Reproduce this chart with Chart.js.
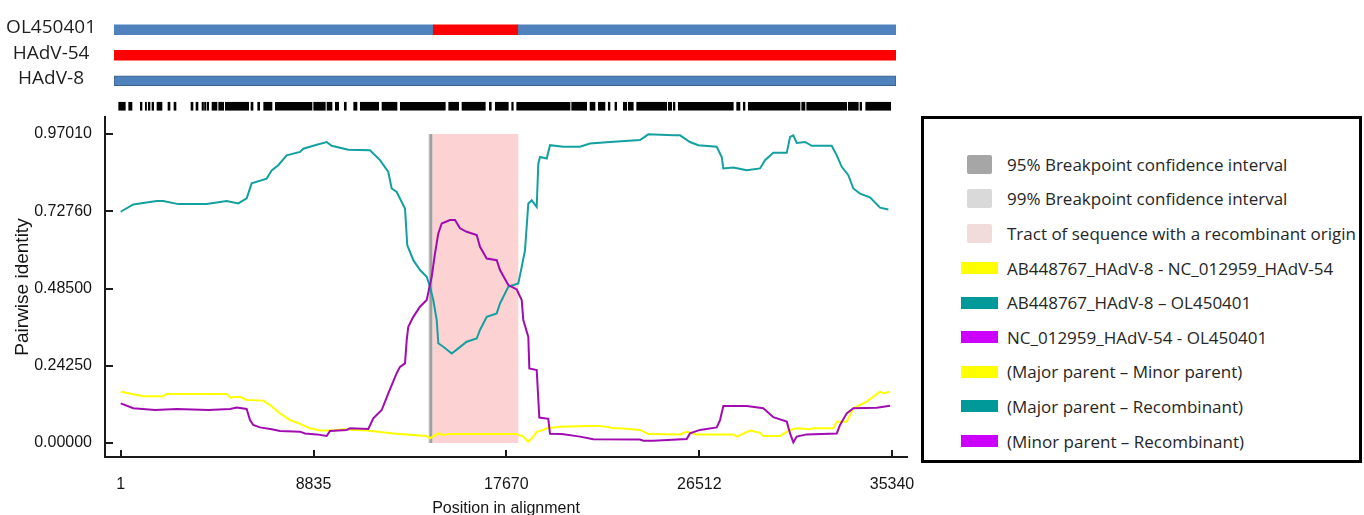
<!DOCTYPE html>
<html>
<head>
<meta charset="utf-8">
<title>Pairwise identity - recombination</title>
<script src="https://cdn.jsdelivr.net/npm/chart.js@4.4.1/dist/chart.umd.min.js"></script>
<style>
	html, body { margin: 0; padding: 0; background: #fff; }
	body { width: 1364px; height: 515px; position: relative; overflow: hidden; font-family: "Open Sans", sans-serif; }
	#plot-wrap { position: absolute; left: 0; top: 0; width: 930px; height: 515px; }
	#track-wrap { position: absolute; left: 0; top: 0; width: 915px; height: 120px; }
	.legend { position: absolute; left: 921px; top: 116px; width: 441px; height: 347px; box-sizing: border-box; border: 3px solid #000; overflow: hidden; background: #fff; }
	.legend ul { list-style: none; margin: 0; padding: 0; position: absolute; left: 0; top: 28px; }
	.legend li { position: relative; height: 34.6px; display: flex; align-items: center; white-space: nowrap; }
	.legend .swatch { position: absolute; }
	.legend .swatch.box { left: 43px; width: 25px; height: 19px; border-radius: 2px; }
	.legend .swatch.bar { left: 37px; width: 37px; height: 12px; }
	.legend .txt { margin-left: 83px; font-size: 17px; color: #262626; }
</style>
</head>
<body>
<div id="plot-wrap"><canvas id="identity-chart" width="930" height="515"></canvas></div>
<div id="track-wrap"><canvas id="track-chart" width="915" height="120"></canvas></div>
<div class="legend"><ul id="legend-list"></ul></div>

<script>
	'use strict';

	// axis ticks
	var xTicks = [1, 8835, 17670, 26512, 35340];
	var yTicks = [0, 0.2425, 0.485, 0.7276, 0.9701];

	// recombinant tract and breakpoint confidence intervals (alignment positions)
	var tract = [14250, 18218];
	var ci99 = [14105, 14290];
	var ci95 = [14150, 14270];

	// AB448767_HAdV-8 - OL450401 (major parent - recombinant)
	var tealPos = [1, 578, 1650, 1952, 2639, 3940, 4857, 5388, 5773, 6002, 6690, 6919, 7221, 7606, 8215, 8367, 8903, 9439, 9668, 10429, 11423, 11881, 12262, 12417, 12646, 13027, 13132, 13407, 13714, 14021, 14172, 14323, 14480, 14553, 14782, 15167, 15469, 15854, 16313, 16463, 16771, 17229, 17380, 17760, 18218, 18374, 18525, 18677, 18832, 19061, 19135, 19213, 19520, 19671, 20280, 21045, 21503, 22420, 23795, 24175, 25320, 25628, 26085, 26466, 27309, 27538, 27612, 28070, 28684, 29293, 29522, 29902, 30517, 30669, 30819, 30974, 31355, 31662, 32578, 32808, 33037, 33339, 33568, 33875, 34333, 34791, 35172];
	var tealVal = [0.726, 0.749, 0.760, 0.760, 0.750, 0.750, 0.760, 0.752, 0.768, 0.815, 0.830, 0.856, 0.872, 0.903, 0.914, 0.924, 0.935, 0.945, 0.933, 0.921, 0.919, 0.888, 0.851, 0.799, 0.788, 0.736, 0.621, 0.574, 0.543, 0.522, 0.490, 0.449, 0.386, 0.313, 0.302, 0.281, 0.297, 0.318, 0.328, 0.355, 0.396, 0.407, 0.438, 0.490, 0.501, 0.553, 0.605, 0.752, 0.762, 0.741, 0.877, 0.898, 0.893, 0.935, 0.930, 0.930, 0.940, 0.945, 0.951, 0.969, 0.966, 0.966, 0.945, 0.935, 0.930, 0.898, 0.862, 0.865, 0.856, 0.862, 0.888, 0.911, 0.911, 0.961, 0.966, 0.942, 0.945, 0.933, 0.933, 0.903, 0.867, 0.841, 0.799, 0.783, 0.771, 0.739, 0.733];

	// NC_012959_HAdV-54 - OL450401 (minor parent - recombinant)
	var purplePos = [1, 578, 1573, 2566, 4014, 5008, 5316, 5773, 5925, 6076, 6383, 6919, 7299, 8216, 8445, 8981, 9439, 9591, 10356, 10507, 11346, 11575, 11960, 12262, 12646, 12798, 13027, 13105, 13178, 13407, 13714, 14021, 14250, 14402, 14553, 14709, 15089, 15318, 15547, 15854, 16313, 16463, 16771, 17229, 17380, 17760, 18146, 18374, 18447, 18677, 18723, 19061, 19181, 19593, 19671, 20207, 21045, 21655, 23795, 23946, 24404, 25934, 26085, 26544, 27309, 27461, 27612, 28684, 29444, 29902, 30517, 30669, 30819, 30974, 31433, 32808, 32959, 33265, 33568, 34641, 35250];
	var purpleVal = [0.1245, 0.109, 0.1035, 0.107, 0.1035, 0.107, 0.111, 0.107, 0.072, 0.0565, 0.049, 0.043, 0.0376, 0.0355, 0.030, 0.027, 0.022, 0.0376, 0.041, 0.046, 0.044, 0.0775, 0.1035, 0.156, 0.219, 0.239, 0.250, 0.323, 0.365, 0.396, 0.428, 0.449, 0.522, 0.595, 0.658, 0.689, 0.700, 0.700, 0.674, 0.663, 0.653, 0.616, 0.579, 0.574, 0.543, 0.496, 0.482, 0.449, 0.386, 0.333, 0.234, 0.229, 0.080, 0.076, 0.029, 0.028, 0.020, 0.012, 0.011, 0.007, 0.007, 0.0125, 0.030, 0.041, 0.049, 0.072, 0.116, 0.116, 0.109, 0.081, 0.067, 0.030, 0.002, 0.020, 0.027, 0.030, 0.0565, 0.093, 0.109, 0.111, 0.117];

	// AB448767_HAdV-8 - NC_012959_HAdV-54 (major parent - minor parent)
	var yellowPos = [1, 578, 1036, 1952, 2109, 4857, 5008, 5467, 5773, 6535, 6842, 7299, 7758, 8216, 8675, 9133, 9742, 10200, 11273, 12491, 14021, 14172, 14553, 14782, 15089, 18146, 18447, 18677, 18906, 19061, 19365, 19520, 20130, 21353, 21962, 22420, 22572, 22879, 23795, 24175, 25628, 25934, 26393, 28070, 28226, 28835, 29293, 29444, 30210, 30669, 30974, 31584, 31735, 32652, 32808, 33265, 33568, 34182, 34791, 34943, 35250];
	var yellowVal = [0.161, 0.153, 0.147, 0.147, 0.154, 0.154, 0.143, 0.145, 0.135, 0.133, 0.119, 0.093, 0.072, 0.060, 0.046, 0.039, 0.039, 0.043, 0.039, 0.030, 0.022, 0.015, 0.030, 0.025, 0.028, 0.028, 0.020, 0.004, 0.020, 0.035, 0.041, 0.046, 0.051, 0.053, 0.053, 0.049, 0.046, 0.046, 0.041, 0.028, 0.027, 0.035, 0.027, 0.027, 0.020, 0.039, 0.032, 0.022, 0.022, 0.041, 0.046, 0.043, 0.046, 0.046, 0.067, 0.067, 0.109, 0.130, 0.161, 0.156, 0.161];

	// sequence tracks above the plot
	var trackNames = ['OL450401', 'HAdV-54', 'HAdV-8'];
	var olSegments = [[1, 14430], [14430, 18271], [18271, 35340]];
	var olSources = ['HAdV-8', 'HAdV-54', 'HAdV-8'];
	var fullLength = [1, 35340];

	// informative sites (runs of positions)
	var informativeSites = [[213, 512], [665, 814], [1190, 1266], [1415, 1470], [1551, 1628], [1718, 1795], [1944, 2170], [2441, 2532], [2713, 2803], [3481, 3571], [3707, 3797], [3978, 4046], [4091, 4158], [4217, 4281], [4430, 4656], [4732, 4958], [5031, 6088], [6192, 6283], [6495, 6585], [6766, 7141], [7290, 8949], [9026, 9550], [9627, 9853], [10002, 10155], [10408, 10498], [10833, 10982], [11131, 11963], [12112, 12790], [12939, 14973], [15126, 15578], [15727, 16780], [16961, 17051], [17232, 17819], [17973, 18045], [18199, 20608], [20684, 21362], [21513, 21739], [21886, 22189], [22338, 22415], [22639, 22715], [23016, 23169], [23241, 23467], [23621, 24977], [25049, 25203], [25276, 25352], [25501, 27987], [28140, 28289], [28439, 28516], [28665, 31002], [31078, 31228], [31304, 33111], [33183, 33636], [33713, 33790], [33971, 35101]];

	// legend
	var legendLabels = ['95% Breakpoint confidence interval', '99% Breakpoint confidence interval', 'Tract of sequence with a recombinant origin', 'AB448767_HAdV-8 - NC_012959_HAdV-54', 'AB448767_HAdV-8 \u2013 OL450401', 'NC_012959_HAdV-54 - OL450401', '(Major parent \u2013 Minor parent)', '(Major parent \u2013 Recombinant)', '(Minor parent \u2013 Recombinant)'];
	var legendColors = ['#a6a6a6', '#d9d9d9', '#f2dcdb', '#ffff00', '#009999', '#cc00ff', '#ffff00', '#009999', '#cc00ff'];
	var legendKinds = ['box', 'box', 'box', 'bar', 'bar', 'bar', 'bar', 'bar', 'bar'];

	var COLORS = {
		yellow: '#ffff00',
		teal: '#13a0a0',
		purple: '#a00cb0',
		tract: '#fcd2d2',
		ci95: '#a0a0a0',
		ci99: '#d4d4d4',
		'HAdV-8': '#4f81bd',
		'HAdV-54': '#ff0000'
	};

	var tickFont = { family: '"Liberation Sans", Arial, sans-serif', size: 16 };

	function toPoints(pos, val) {
		return pos.map(function (p, i) {
			return { x: p, y: val[i] };
		});
	}

	function lineSeries(label, pos, val, color, order) {
		return {
			label: label,
			data: toPoints(pos, val),
			borderColor: color,
			backgroundColor: color,
			borderWidth: 2,
			pointRadius: 0,
			tension: 0,
			fill: false,
			order: order
		};
	}

	/**
	 * Shaded tract and breakpoint intervals behind the lines
	 */
	var regionPlugin = {
		id: 'regions',
		beforeDatasetsDraw: function (chart) {
			var ctx = chart.ctx;
			var x = chart.scales.x;
			var y = chart.scales.y;
			var top = y.getPixelForValue(yTicks[yTicks.length - 1]);
			var bottom = y.getPixelForValue(0);

			function band(range, color) {
				var x1 = x.getPixelForValue(range[0]);
				var x2 = x.getPixelForValue(range[1]);
				ctx.fillStyle = color;
				ctx.fillRect(x1, top, x2 - x1, bottom - top);
			}

			ctx.save();
			band(tract, COLORS.tract);
			band(ci99, COLORS.ci99);
			band(ci95, COLORS.ci95);
			ctx.restore();
		}
	};

	/**
	 * Tick marks pointing into the plot area
	 */
	var innerTicksPlugin = {
		id: 'innerTicks',
		afterDraw: function (chart) {
			var ctx = chart.ctx;
			var x = chart.scales.x;
			var y = chart.scales.y;
			var area = chart.chartArea;

			ctx.save();
			ctx.strokeStyle = '#1a1a1a';
			ctx.lineWidth = 2;
			ctx.beginPath();
			xTicks.forEach(function (v) {
				var px = Math.round(x.getPixelForValue(v));
				ctx.moveTo(px, area.bottom);
				ctx.lineTo(px, area.bottom - 7);
			});
			yTicks.forEach(function (v) {
				var py = Math.round(y.getPixelForValue(v));
				ctx.moveTo(area.left, py);
				ctx.lineTo(area.left + 8, py);
			});
			ctx.stroke();
			ctx.restore();
		}
	};

	var RecombinationPlot = {
		init: function () {
			this.renderIdentityChart();
			this.renderTrackChart();
			this.renderLegend();
		},

		renderIdentityChart: function () {
			var ctx = document.getElementById('identity-chart');

			new Chart(ctx, {
				type: 'line',
				data: {
					datasets: [
						lineSeries('AB448767_HAdV-8 - NC_012959_HAdV-54', yellowPos, yellowVal, COLORS.yellow, 3),
						lineSeries('AB448767_HAdV-8 - OL450401', tealPos, tealVal, COLORS.teal, 2),
						lineSeries('NC_012959_HAdV-54 - OL450401', purplePos, purpleVal, COLORS.purple, 1)
					]
				},
				options: {
					responsive: false,
					animation: false,
					layout: {
						padding: { top: 117, right: 23, bottom: 0, left: 0 }
					},
					plugins: {
						legend: { display: false },
						tooltip: { enabled: false }
					},
					scales: {
						x: {
							type: 'linear',
							min: -718,
							max: 36027,
							afterBuildTicks: function (scale) {
								scale.ticks = xTicks.map(function (v) {
									return { value: v };
								});
							},
							afterFit: function (scale) {
								scale.height = 58;
							},
							grid: { display: false },
							border: { display: true, color: '#1a1a1a', width: 2 },
							ticks: {
								autoSkip: false,
								maxRotation: 0,
								padding: 10,
								color: '#151515',
								font: tickFont,
								callback: function (value) {
									return String(value);
								}
							},
							title: {
								display: true,
								text: 'Position in alignment',
								color: '#151515',
								padding: { top: 0, bottom: -2 },
								font: { family: tickFont.family, size: 16, lineHeight: 1 }
							}
						},
						y: {
							min: -0.044,
							max: 1.0235,
							afterBuildTicks: function (scale) {
								scale.ticks = yTicks.map(function (v) {
									return { value: v };
								});
							},
							afterFit: function (scale) {
								scale.width = 105;
							},
							grid: { display: false },
							border: { display: true, color: '#1a1a1a', width: 2 },
							ticks: {
								padding: 5,
								color: '#151515',
								font: tickFont,
								callback: function (value) {
									return Number(value).toFixed(5);
								}
							},
							title: {
								display: true,
								text: 'Pairwise identity',
								color: '#151515',
								padding: { top: 11, bottom: 0 },
								font: { family: tickFont.family, size: 19 }
							}
						}
					}
				},
				plugins: [regionPlugin, innerTicksPlugin]
			});
		},

		renderTrackChart: function () {
			var ctx = document.getElementById('track-chart');

			new Chart(ctx, {
				type: 'bar',
				data: {
					labels: trackNames.concat(['']),
					datasets: [
						{
							label: 'OL450401',
							data: olSegments.map(function (s) {
								return { x: s, y: 'OL450401' };
							}),
							backgroundColor: olSources.map(function (name) {
								return COLORS[name];
							}),
							barThickness: 10,
							grouped: false,
							borderSkipped: false
						},
						{
							label: 'HAdV-54',
							data: [{ x: fullLength, y: 'HAdV-54' }],
							backgroundColor: COLORS['HAdV-54'],
							barThickness: 10,
							grouped: false
						},
						{
							label: 'HAdV-8',
							data: [{ x: fullLength, y: 'HAdV-8' }],
							backgroundColor: COLORS['HAdV-8'],
							borderColor: '#3a5f8c',
							borderWidth: 1,
							borderSkipped: false,
							barThickness: 10,
							grouped: false
						},
						{
							label: 'Informative sites',
							data: informativeSites.map(function (s) {
								return { x: s, y: '' };
							}),
							backgroundColor: '#000',
							barThickness: 8,
							grouped: false
						}
					]
				},
				options: {
					indexAxis: 'y',
					responsive: false,
					animation: false,
					layout: {
						padding: { top: 17, right: 19, bottom: 1, left: 0 }
					},
					plugins: {
						legend: { display: false },
						tooltip: { enabled: false }
					},
					scales: {
						x: {
							type: 'linear',
							min: fullLength[0],
							max: fullLength[1],
							display: false
						},
						y: {
							afterFit: function (scale) {
								scale.width = 114;
								scale.paddingTop = 0;
								scale.paddingBottom = 0;
							},
							grid: { display: false },
							border: { display: false },
							ticks: {
								autoSkip: false,
								crossAlign: 'center',
								padding: 10,
								labelOffset: -2,
								color: '#1f1f1f',
								font: { family: '"Open Sans", sans-serif', size: 19 }
							}
						}
					}
				}
			});
		},

		renderLegend: function () {
			var list = document.getElementById('legend-list');

			legendLabels.forEach(function (label, i) {
				var li = document.createElement('li');
				var sw = document.createElement('span');
				var txt = document.createElement('span');
				sw.className = 'swatch ' + legendKinds[i];
				sw.style.background = legendColors[i];
				txt.className = 'txt';
				txt.textContent = label;
				li.appendChild(sw);
				li.appendChild(txt);
				list.appendChild(li);
			});
		}
	};

	RecombinationPlot.init();
</script>
</body>
</html>
